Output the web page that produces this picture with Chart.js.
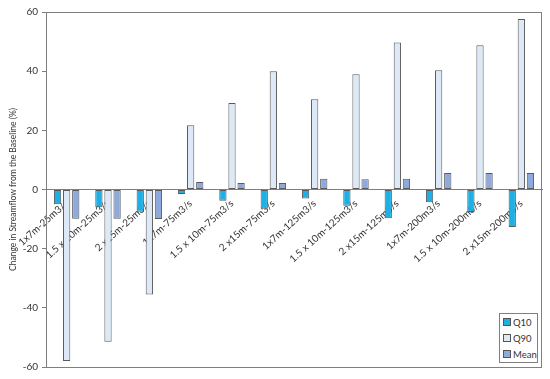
<!DOCTYPE html>
<html>
<head>
<meta charset="utf-8">
<script src="https://cdn.jsdelivr.net/npm/chart.js@4/dist/chart.umd.min.js"></script>
<style>
  html, body { margin: 0; padding: 0; background: #fff; }
  #wrap { position: relative; width: 550px; height: 379px; }
  #legend {
    position: absolute; left: 499px; top: 313px; width: 37px; height: 48px;
    border: 1px solid #808080; background: #fff;
    font: 9.5px Lato, sans-serif; color: #333;
  }
  #legend div { display: flex; align-items: center; height: 16px; padding-left: 3px; }
  #legend span.sw { width: 6px; height: 6px; border: 1px solid #555; margin-right: 2px; display: inline-block; }
</style>
</head>
<body>
<div id="wrap">
  <canvas id="chart" width="550" height="379"></canvas>
  <div id="legend"></div>
</div>
<script>
const categories = [
  '1x7m-25m3/s', '1.5 x 10m-25m3/s', '2 x15m-25m3/s',
  '1x7m-75m3/s', '1.5 x 10m-75m3/s', '2 x15m-75m3/s',
  '1x7m-125m3/s', '1.5 x 10m-125m3/s', '2 x15m-125m3/s',
  '1x7m-200m3/s', '1.5 x 10m-200m3/s', '2 x15m-200m3/s'
];
const q10 = [-5, -6, -7.5, -1.5, -3.8, -6.5, -3, -5.5, -9.7, -4.3, -7.6, -12.7];
const q90 = [-58, -51.5, -35.5, 21.7, 29.2, 40, 30.5, 39, 49.7, 40.3, 48.8, 57.6];
const mean = [-9.9, -9.9, -10, 2.5, 2.2, 2.2, 3.6, 3.5, 3.6, 5.6, 5.6, 5.6];
const seriesNames = ['Q10', 'Q90', 'Mean'];
const seriesColors = ['#1cb0e6', '#dde9f6', '#8eaadc'];

const yTitle = 'Change in Streamflow from the Baseline (%)';

// frame around the plot area
const frame = {
  id: 'frame',
  afterDraw(chart) {
    const { ctx, chartArea: a } = chart;
    ctx.save();
    ctx.strokeStyle = '#7f7f7f';
    ctx.lineWidth = 1;
    ctx.strokeRect(a.left + 0.5, a.top + 0.5, a.right - a.left - 1, a.bottom - a.top);
    ctx.restore();
  }
};

const datasets = [q10, q90, mean].map((vals, i) => ({
  label: seriesNames[i],
  data: vals,
  backgroundColor: seriesColors[i],
  borderColor: '#5a5a5a',
  borderWidth: 1,
  borderSkipped: false,
  categoryPercentage: 0.66,
  barPercentage: 0.8
}));

new Chart(document.getElementById('chart'), {
  type: 'bar',
  data: { labels: categories, datasets },
  options: {
    responsive: false,
    animation: false,
    layout: { padding: { left: 0, top: 12, right: 8, bottom: 12 } },
    plugins: { legend: { display: false }, tooltip: { enabled: false } },
    scales: {
      x: {
        position: { y: 0 },
        afterFit(scale) { scale.height = 0; },  // labels sit on the zero line, take no room
        grid: { drawOnChartArea: false, drawTicks: false },
        border: { color: '#7f7f7f' },
        ticks: {
          minRotation: 42, maxRotation: 42, padding: 8,
          autoSkip: false,
          color: '#333', font: { family: 'Lato', size: 10 }
        }
      },
      y: {
        min: -60, max: 60,
        afterFit(scale) { scale.width = 46; },
        grid: { drawOnChartArea: false, tickLength: 4, color: '#7f7f7f' },
        border: { color: '#7f7f7f' },
        ticks: { stepSize: 20, padding: 4, color: '#333', font: { family: 'Lato', size: 10 } },
        title: {
          display: true, text: yTitle, color: '#333', padding: { top: 8, bottom: 0 },
          font: { family: 'Lato', size: 8.5 }
        }
      }
    }
  },
  plugins: [frame]
});

const legend = document.getElementById('legend');
seriesNames.forEach((name, i) => {
  const row = document.createElement('div');
  row.innerHTML = '<span class="sw" style="background:' + seriesColors[i] + '"></span>' + name;
  legend.appendChild(row);
});
</script>
</body>
</html>
